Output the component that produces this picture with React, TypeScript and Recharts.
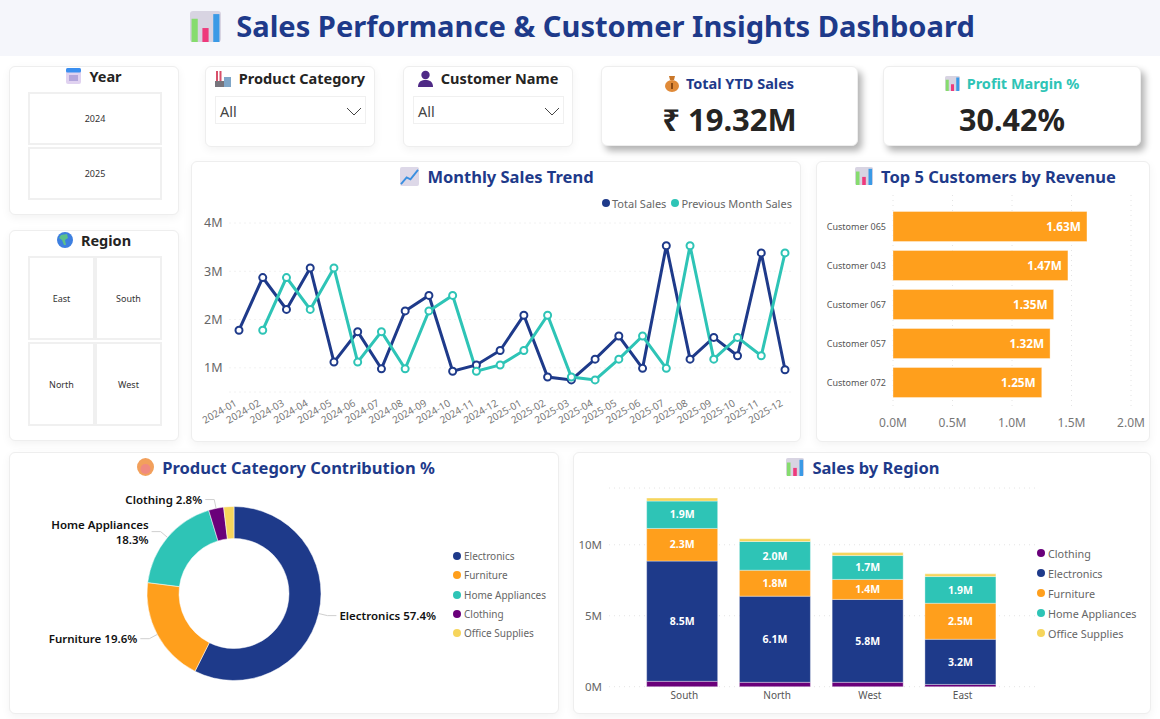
import type { CSSProperties, ReactNode } from "react";
import {
  Bar,
  BarChart,
  CartesianGrid,
  Cell,
  LabelList,
  Legend,
  Line,
  LineChart,
  Pie,
  PieChart,
  XAxis,
  YAxis,
} from "recharts";

const NAVY = "#1E3A8A";
const TEAL = "#2EC4B6";
const ORANGE = "#FF9F1C";
const PURPLE = "#6A007A";
const YELLOW = "#F6D55C";
const FONT = "'Noto Sans', sans-serif";

const months = [
  "2024-01", "2024-02", "2024-03", "2024-04", "2024-05", "2024-06", "2024-07", "2024-08",
  "2024-09", "2024-10", "2024-11", "2024-12", "2025-01", "2025-02", "2025-03", "2025-04",
  "2025-05", "2025-06", "2025-07", "2025-08", "2025-09", "2025-10", "2025-11", "2025-12",
];
const totalSales = [
  1.78, 2.87, 2.21, 3.07, 1.12, 1.75, 0.98, 2.18, 2.5, 0.93, 1.06, 1.36,
  2.09, 0.81, 0.75, 1.18, 1.66, 0.99, 3.53, 1.18, 1.63, 1.25, 3.38, 0.96,
];
const previousMonthSales = [
  null, 1.78, 2.87, 2.21, 3.07, 1.12, 1.75, 0.98, 2.18, 2.5, 0.93, 1.06,
  1.36, 2.09, 0.81, 0.75, 1.18, 1.66, 0.99, 3.53, 1.18, 1.63, 1.25, 3.38,
];
const trendTicks = [1, 2, 3, 4];

const customers = ["Customer 065", "Customer 043", "Customer 067", "Customer 057", "Customer 072"];
const customerRevenue = [1.63, 1.47, 1.35, 1.32, 1.25];
const revenueTicks = [0, 0.5, 1, 1.5, 2];

const categories = ["Electronics", "Furniture", "Home Appliances", "Clothing", "Office Supplies"];
const categoryShare = [57.4, 19.6, 18.3, 2.8, 1.9];
const categoryColors = [NAVY, ORANGE, TEAL, PURPLE, YELLOW];

const regions = ["South", "North", "West", "East"];
const clothing = [0.38, 0.31, 0.31, 0.16];
const electronics = [8.47, 6.07, 5.84, 3.18];
const furniture = [2.3, 1.83, 1.41, 2.54];
const homeAppliances = [1.93, 2.02, 1.68, 1.88];
const officeSupplies = [0.21, 0.19, 0.21, 0.19];
const regionTicks = [0, 5, 10];

const years = ["2024", "2025"];
const regionButtons = ["East", "South", "North", "West"];

const trendData = months.map((month, i) => ({
  month,
  total: totalSales[i],
  previous: previousMonthSales[i],
}));
const customerData = customers.map((name, i) => ({ name, revenue: customerRevenue[i] }));
const categoryData = categories.map((name, i) => ({ name, value: categoryShare[i] }));
const regionData = regions.map((region, i) => ({
  region,
  Clothing: clothing[i],
  Electronics: electronics[i],
  Furniture: furniture[i],
  "Home Appliances": homeAppliances[i],
  "Office Supplies": officeSupplies[i],
}));

const at = (x: number, y: number, w: number, h: number): CSSProperties => ({
  position: "absolute",
  left: x,
  top: y,
  width: w,
  height: h,
  boxSizing: "border-box",
});

const ChartIcon = ({ size = 20 }: { size?: number }) => (
  <svg width={size} height={size} viewBox="0 0 20 20" style={{ flex: "none" }}>
    <rect width="20" height="20" rx="2" fill="#d8d4e2" />
    <rect x="1" y="5" width="4" height="15" fill="#86dc6e" />
    <rect x="8" y="11" width="4" height="9" fill="#ee3a7c" />
    <rect x="15" y="2" width="4" height="18" fill="#3a9ae6" />
  </svg>
);

const TrendIcon = () => (
  <svg width="19" height="19" viewBox="0 0 20 20" style={{ flex: "none" }}>
    <rect width="20" height="20" rx="2" fill="#ddd8e8" />
    <polyline points="1,18 7,11 11,13 19,3" fill="none" stroke="#3a8fe0" strokeWidth="2" />
  </svg>
);

const CalendarIcon = () => (
  <svg width="15" height="16" viewBox="0 0 15 16" style={{ flex: "none" }}>
    <rect width="15" height="16" rx="2" fill="#e0d2f0" />
    <rect width="15" height="4.5" rx="1.5" fill="#3a8ff0" />
    <rect x="3" y="7" width="9" height="6" fill="#b4a6dc" />
  </svg>
);

const GlobeIcon = () => (
  <svg width="16" height="16" viewBox="0 0 16 16" style={{ flex: "none" }}>
    <circle cx="8" cy="8" r="8" fill="#3d7fe0" />
    <path d="M4 3 L10 2 L11 6 L8 8 L9 13 L7 13 L5 8 L2 6 Z" fill="#5cc08a" />
  </svg>
);

const FactoryIcon = () => (
  <svg width="16" height="17" viewBox="0 0 16 17" style={{ flex: "none" }}>
    <rect x="1" y="1" width="2" height="10" fill="#d8506a" />
    <rect x="4.5" y="1" width="2" height="10" fill="#d8506a" />
    <rect y="11" width="9" height="6" fill="#77747c" />
    <rect x="9" y="7" width="7" height="10" fill="#7fa6c8" />
  </svg>
);

const PersonIcon = () => (
  <svg width="15" height="17" viewBox="0 0 15 17" style={{ flex: "none" }}>
    <circle cx="7.5" cy="5" r="4.2" fill="#4f2a86" />
    <path d="M0 17 C0 11 4 10 7.5 10 C11 10 15 11 15 17 Z" fill="#4f2a86" />
  </svg>
);

const BagIcon = () => (
  <svg width="14" height="17" viewBox="0 0 14 17" style={{ flex: "none" }}>
    <path d="M4 1 L10 1 L9 5 L5 5 Z" fill="#c9772a" />
    <ellipse cx="7" cy="11" rx="7" ry="6" fill="#e08a38" />
    <rect x="6" y="8" width="2" height="6" fill="#8a4a14" />
  </svg>
);

const PieIcon = () => (
  <svg width="17" height="18" viewBox="0 0 17 18" style={{ flex: "none" }}>
    <ellipse cx="8.5" cy="9" rx="8.5" ry="9" fill="#f2a05c" />
    <ellipse cx="8.5" cy="11" rx="5" ry="5" fill="#f08a80" />
  </svg>
);

const Card = ({ x, y, w, h, style, children }: { x: number; y: number; w: number; h: number; style?: CSSProperties; children?: ReactNode }) => (
  <div
    style={{
      ...at(x, y, w, h),
      background: "#fff",
      border: "1px solid #eeeeee",
      borderRadius: 6,
      boxShadow: "0 3px 10px rgba(0,0,0,0.05)",
      ...style,
    }}
  >
    {children}
  </div>
);

const CardTitle = ({ x, y, w, size = 16.5, color = NAVY, gap = 8, icon, children }: { x: number; y: number; w: number; size?: number; color?: string; gap?: number; icon: ReactNode; children: ReactNode }) => (
  <div
    style={{
      ...at(x, y, w, 24),
      display: "flex",
      alignItems: "center",
      justifyContent: "center",
      gap,
      fontSize: size,
      fontWeight: 700,
      color,
      whiteSpace: "nowrap",
    }}
  >
    {icon}
    <span>{children}</span>
  </div>
);

const SlicerButton = ({ x, y, w, h, label }: { x: number; y: number; w: number; h: number; label: string }) => (
  <div
    style={{
      ...at(x, y, w, h),
      border: "2px solid #f0f0f0",
      display: "flex",
      alignItems: "center",
      justifyContent: "center",
      fontSize: 9,
      color: "#333",
    }}
  >
    {label}
  </div>
);

const Dropdown = ({ x, y }: { x: number; y: number }) => (
  <div
    style={{
      ...at(x, y, 151, 28),
      border: "1px solid #f0f0f0",
      display: "flex",
      alignItems: "center",
      justifyContent: "space-between",
      padding: "2px 3px 0 4px",
      fontSize: 14.5,
      color: "#444",
    }}
  >
    <span>All</span>
    <svg width="16" height="9" viewBox="0 0 16 9">
      <polyline points="1,1 8,8 15,1" fill="none" stroke="#444" strokeWidth="1" />
    </svg>
  </div>
);

// legend with the small dots used on every chart of the dashboard
const dotLegend = (horizontal: boolean, rowGap: number, fontSize = 11, dotGap = 3) =>
  function DotLegend({ payload }: any) {
    return (
      <div style={{ display: "flex", flexDirection: horizontal ? "row" : "column", gap: rowGap, fontFamily: FONT }}>
        {(payload || []).map((item: any) => (
          <div key={item.value} style={{ display: "flex", alignItems: "center", gap: dotGap, height: 14, fontSize, color: "#666", whiteSpace: "nowrap" }}>
            <span style={{ width: 8, height: 8, borderRadius: "50%", background: item.color }} />
            {item.value}
          </div>
        ))}
      </div>
    );
  };

const renderCategoryLabel = ({ cx, cy, midAngle, outerRadius, name, value, percent }: any) => {
  if (percent < 0.02) return null;
  const RADIAN = Math.PI / 180;
  const cos = Math.cos(-midAngle * RADIAN);
  const sin = Math.sin(-midAngle * RADIAN);
  const elbowX = cx + (outerRadius + 9) * cos;
  const elbowY = cy + (outerRadius + 9) * sin;
  const side = cos >= 0 ? 1 : -1;
  const textX = elbowX + side * 12;
  const points = `${cx + outerRadius * cos},${cy + outerRadius * sin} ${elbowX},${elbowY} ${elbowX + side * 9},${elbowY}`;
  const long = name.length > 12;
  return (
    <g>
      <polyline points={points} fill="none" stroke="#cfcfcf" strokeWidth={1} />
      <text x={textX} y={elbowY} textAnchor={side > 0 ? "start" : "end"} fontSize={11.5} fontWeight={600} fill="#111">
        {long ? (
          <>
            <tspan x={textX} dy={-3}>{name}</tspan>
            <tspan x={textX} dy={15}>{`${value.toFixed(1)}%`}</tspan>
          </>
        ) : (
          <tspan dy={4}>{`${name} ${value.toFixed(1)}%`}</tspan>
        )}
      </text>
    </g>
  );
};

// plain tick, the default one wraps "Customer 065" on two lines
const CustomerTick = ({ x, y, payload }: any) => (
  <text x={x} y={y} dy={3} textAnchor="end" fontSize={9} fill="#555">
    {payload.value}
  </text>
);

const grid = { stroke: "#e4e4e4", strokeDasharray: "1 4" };
const millions = (v: number) => `${v}M`;
const oneDecimal = (v: number) => `${v.toFixed(1)}M`;
const barEdge = "rgba(255,255,255,0.35)";

const App = () => (
  <div style={{ ...at(0, 0, 1160, 719), background: "#fff", fontFamily: FONT, overflow: "hidden" }}>
    <div style={{ ...at(0, 0, 1160, 56), background: "#f5f6fb" }} />
    <CardTitle x={0} y={14} w={1165} size={29.1} gap={15} icon={<ChartIcon size={31} />}>
      Sales Performance &amp; Customer Insights Dashboard
    </CardTitle>

    <Card x={9} y={66} w={170} h={149} />
    <CardTitle x={9} y={64} w={170} size={14.5} color="#252423" icon={<CalendarIcon />}>Year</CardTitle>
    {years.map((year, i) => (
      <SlicerButton key={year} x={28} y={92 + i * 55} w={134} h={53} label={year} />
    ))}

    <Card x={9} y={230} w={170} h={211} />
    <CardTitle x={9} y={228} w={170} size={14.5} color="#252423" icon={<GlobeIcon />}>Region</CardTitle>
    {regionButtons.map((region, i) => (
      <SlicerButton key={region} x={28 + (i % 2) * 67} y={256 + Math.floor(i / 2) * 86} w={67} h={84} label={region} />
    ))}

    <Card x={205} y={66} w={170} h={81} />
    <CardTitle x={205} y={66} w={170} size={14.5} color="#252423" icon={<FactoryIcon />}>Product Category</CardTitle>
    <Dropdown x={215} y={96} />

    <Card x={403} y={66} w={170} h={81} />
    <CardTitle x={403} y={66} w={170} size={14.5} color="#252423" icon={<PersonIcon />}>Customer Name</CardTitle>
    <Dropdown x={413} y={96} />

    <Card x={601} y={66} w={257} h={80} style={{ boxShadow: "4px 5px 7px rgba(0,0,0,0.3)" }} />
    <CardTitle x={601} y={71} w={257} size={14.5} gap={7} icon={<BagIcon />}>Total YTD Sales</CardTitle>
    <div style={{ ...at(601, 97, 257, 44), textAlign: "center", fontSize: 31, fontWeight: 700, color: "#252423", lineHeight: "44px" }}>₹ 19.32M</div>

    <Card x={883} y={66} w={258} h={80} style={{ boxShadow: "4px 5px 7px rgba(0,0,0,0.3)" }} />
    <CardTitle x={883} y={71} w={258} size={14.5} gap={7} color={TEAL} icon={<ChartIcon size={15} />}>Profit Margin %</CardTitle>
    <div style={{ ...at(883, 97, 258, 44), textAlign: "center", fontSize: 30.5, fontWeight: 700, color: "#252423", lineHeight: "44px" }}>30.42%</div>

    <Card x={191} y={161} w={610} h={281} />
    <CardTitle x={191} y={164} w={612} icon={<TrendIcon />}>Monthly Sales Trend</CardTitle>
    <div style={at(191, 161, 610, 281)}>
      <LineChart width={610} height={281} data={trendData} margin={{ top: 62, right: 8, bottom: 0, left: 0 }}>
        <CartesianGrid {...grid} vertical={false} />
        <XAxis
          dataKey="month"
          height={50}
          axisLine={false}
          tickLine={false}
          tickSize={0}
          interval={0}
          padding={{ left: 9.5, right: 8 }}
          angle={-30}
          textAnchor="end"
          tick={{ fontSize: 10, fill: "#777", dx: -5, dy: 5 }}
        />
        <YAxis
          width={38.5}
          domain={[0.5, 4]}
          ticks={trendTicks}
          tickFormatter={millions}
          axisLine={false}
          tickLine={false}
          tickSize={0}
          tickMargin={7}
          tick={{ fontSize: 12.5, fill: "#666" }}
        />
        <Legend
          layout="vertical"
          align="center"
          verticalAlign="middle"
          itemSorter={null}
          content={dotLegend(true, 5, 11, 2)}
          wrapperStyle={{ left: 411, top: 35, width: 195 }}
        />
        <Line name="Total Sales" dataKey="total" stroke={NAVY} strokeWidth={3} dot={{ r: 3.5, fill: "#fff", stroke: NAVY, strokeWidth: 2 }} isAnimationActive={false} />
        <Line name="Previous Month Sales" dataKey="previous" stroke={TEAL} strokeWidth={3} dot={{ r: 3.5, fill: "#fff", stroke: TEAL, strokeWidth: 2 }} isAnimationActive={false} />
      </LineChart>
    </div>

    <Card x={816} y={161} w={334} h={281} />
    <CardTitle x={816} y={164} w={339} icon={<ChartIcon size={18} />}>Top 5 Customers by Revenue</CardTitle>
    <div style={at(816, 161, 334, 281)}>
      <BarChart
        layout="vertical"
        width={334}
        height={281}
        data={customerData}
        barCategoryGap="11.5%"
        margin={{ top: 34, right: 19, bottom: 0, left: 0 }}
      >
        <CartesianGrid {...grid} horizontal={false} />
        <XAxis
          type="number"
          height={36}
          domain={[0, 2]}
          ticks={revenueTicks}
          tickFormatter={oneDecimal}
          axisLine={false}
          tickLine={false}
          tickSize={0}
          tickMargin={12}
          tick={{ fontSize: 12, fill: "#777" }}
        />
        <YAxis
          type="category"
          dataKey="name"
          width={77}
          padding={{ top: 12, bottom: 4 }}
          axisLine={false}
          tickLine={false}
          tickSize={0}
          tickMargin={7}
          tick={<CustomerTick />}
        />
        <Bar dataKey="revenue" fill={ORANGE} stroke={barEdge} isAnimationActive={false}>
          <LabelList
            dataKey="revenue"
            position="insideRight"
            offset={6}
            formatter={(v: any) => `${v.toFixed(2)}M`}
            style={{ fill: "#fff", fontSize: 11.8, fontWeight: 700 }}
          />
        </Bar>
      </BarChart>
    </div>

    <Card x={9} y={452} w={550} h={262} />
    <CardTitle x={9} y={455} w={554} icon={<PieIcon />}>Product Category Contribution %</CardTitle>
    <div style={at(9, 452, 550, 262)}>
      <PieChart width={550} height={262} margin={{ top: 0, right: 0, bottom: 0, left: 0 }}>
        <Pie
          data={categoryData}
          dataKey="value"
          nameKey="name"
          cx={225}
          cy={141.5}
          innerRadius={55}
          outerRadius={87}
          startAngle={90}
          endAngle={-270}
          stroke="#fff"
          strokeWidth={0.5}
          labelLine={false}
          label={renderCategoryLabel}
          isAnimationActive={false}
        >
          {categoryData.map((d, i) => (
            <Cell key={d.name} fill={categoryColors[i]} />
          ))}
        </Pie>
        <Legend
          layout="vertical"
          align="center"
          verticalAlign="middle"
          itemSorter={null}
          content={dotLegend(false, 5.3, 10)}
          wrapperStyle={{ left: 444, top: 97, width: 105 }}
        />
      </PieChart>
    </div>

    <Card x={573} y={452} w={578} h={262} />
    <CardTitle x={573} y={455} w={580} icon={<ChartIcon size={18} />}>Sales by Region</CardTitle>
    <div style={at(573, 452, 578, 262)}>
      <BarChart
        width={578}
        height={262}
        data={regionData}
        barCategoryGap="11.5%"
        margin={{ top: 36, right: 115, bottom: 0, left: 0 }}
      >
        <CartesianGrid {...grid} vertical={false} />
        <XAxis
          dataKey="region"
          height={27.3}
          padding={{ left: 27, right: 29 }}
          axisLine={false}
          tickLine={false}
          tickSize={0}
          tickMargin={5}
          tick={{ fontSize: 10, fill: "#555", dx: 2 }}
        />
        <YAxis
          width={36}
          domain={[0, 14]}
          ticks={regionTicks}
          tickFormatter={millions}
          axisLine={false}
          tickLine={false}
          tickSize={0}
          tickMargin={7}
          tick={{ fontSize: 11.5, fill: "#666" }}
        />
        <Legend
          layout="vertical"
          align="center"
          verticalAlign="middle"
          itemSorter={null}
          content={dotLegend(false, 6, 10.8)}
          wrapperStyle={{ left: 464, top: 94, width: 112 }}
        />
        <Bar dataKey="Clothing" stackId="a" fill={PURPLE} stroke={barEdge} isAnimationActive={false} />
        {[
          ["Electronics", NAVY],
          ["Furniture", ORANGE],
          ["Home Appliances", TEAL],
        ].map(([key, color]) => (
          <Bar key={key} dataKey={key} stackId="a" fill={color} stroke={barEdge} isAnimationActive={false}>
            <LabelList dataKey={key} position="center" formatter={(v: any) => oneDecimal(v)} style={{ fill: "#fff", fontSize: 10.5, fontWeight: 700 }} />
          </Bar>
        ))}
        <Bar dataKey="Office Supplies" stackId="a" fill={YELLOW} stroke={barEdge} isAnimationActive={false} />
      </BarChart>
    </div>
  </div>
);

export default App;
